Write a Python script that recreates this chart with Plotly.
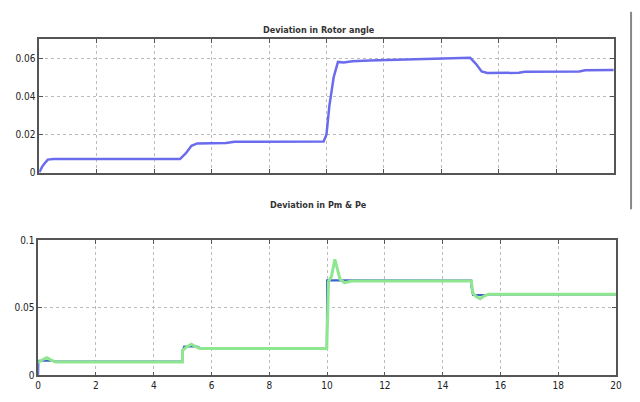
import plotly.graph_objects as go

# Deviation in rotor angle
t_rotor = [0, 0.1, 0.2, 0.3, 0.5, 4.9, 5.1, 5.3, 5.5, 6.5, 6.8, 9.9, 10.0, 10.1, 10.25, 10.4,
           10.6, 10.9, 11.5, 12.5, 13.5, 15.0, 15.2, 15.4, 15.6, 16.7, 16.9, 18.8, 19.0, 20]
rotor = [0, 0.003, 0.005, 0.0068, 0.0071, 0.0071, 0.010, 0.014, 0.0153, 0.0155, 0.0162, 0.0163,
         0.020, 0.035, 0.050, 0.058, 0.0577, 0.0583, 0.0588, 0.0592, 0.0598, 0.0602, 0.057,
         0.053, 0.0522, 0.0523, 0.0528, 0.0530, 0.0536, 0.0538]

# Deviation in Pe (staircase, blue)
t_pe = [0, 0.01, 0.5, 0.6, 4.99, 5.0, 5.05, 5.5, 5.6, 9.99, 10.0, 10.8, 10.9, 14.99, 15.0, 15.05,
        15.5, 15.6, 20]
pe = [0, 0.0108, 0.0108, 0.0102, 0.0102, 0.018, 0.0212, 0.0212, 0.0202, 0.0202, 0.0703, 0.0703,
      0.0702, 0.0702, 0.065, 0.0593, 0.0593, 0.0598, 0.0598]

# Deviation in Pm (green, with overshoot)
t_pm = [0, 0.02, 0.15, 0.3, 0.45, 0.6, 4.99, 5.0, 5.15, 5.3, 5.45, 5.6, 9.99, 10.05, 10.15,
        10.27, 10.45, 10.6, 10.75, 10.85, 14.99, 15.05, 15.15, 15.3, 15.45, 15.6, 20]
pm = [0.01, 0.0098, 0.0115, 0.013, 0.0112, 0.0098, 0.0098, 0.0185, 0.0212, 0.023, 0.0212, 0.0198,
      0.0198, 0.0695, 0.073, 0.0857, 0.071, 0.0685, 0.0692, 0.0698, 0.0698, 0.0605, 0.0585,
      0.0567, 0.0588, 0.06, 0.06]

x_ticks = list(range(0, 21, 2))
top_ticks = [0, 0.02, 0.04, 0.06]
top_labels = ["0", "0.02", "0.04", "0.06"]
bot_ticks = [0, 0.05, 0.1]
bot_labels = ["0", "0.05", "0.1"]

W, H = 640, 402
font_fam = "Liberation Sans Narrow, DejaVu Sans Condensed, Arial Narrow, sans-serif"

fig = go.Figure()
fig.add_trace(go.Scatter(x=t_rotor, y=rotor, mode="lines", line=dict(color="#6B6BEE", width=2.5),
                         xaxis="x", yaxis="y", showlegend=False))
fig.add_trace(go.Scatter(x=t_pe, y=pe, mode="lines", line=dict(color="#3F62D0", width=2),
                         xaxis="x2", yaxis="y2", showlegend=False))
fig.add_trace(go.Scatter(x=t_pm, y=pm, mode="lines", line=dict(color="#8EE68E", width=3),
                         xaxis="x2", yaxis="y2", showlegend=False))

axis_common = dict(showline=True, linecolor="#555555", linewidth=1.5, mirror="ticks",
                   ticks="inside", ticklen=4, tickcolor="#555555", showgrid=True,
                   gridcolor="#BBBBBB", griddash="dot", gridwidth=1, zeroline=False,
                   tickfont=dict(family=font_fam, size=10, color="#222222"))

fig.update_layout(
    width=W, height=H, margin=dict(l=0, r=0, t=0, b=0),
    paper_bgcolor="white", plot_bgcolor="white",
    xaxis=dict(domain=[36.7 / W, 619.5 / W], range=[0, 20], tickvals=x_ticks,
               showticklabels=False, anchor="y", **axis_common),
    yaxis=dict(domain=[1 - 172.3 / H, 1 - 35 / H], range=[0, 0.07], tickvals=top_ticks,
               ticktext=top_labels, anchor="x", **axis_common),
    xaxis2=dict(domain=[35.7 / W, 621.7 / W], range=[0, 20], tickvals=x_ticks,
                ticktext=[str(v) for v in x_ticks], anchor="y2", **axis_common),
    yaxis2=dict(domain=[1 - 380.7 / H, 1 - 241.7 / H], range=[0, 0.1], tickvals=bot_ticks,
                ticktext=bot_labels, anchor="x2", **axis_common),
    annotations=[
        dict(text="<b>Deviation in Rotor angle</b>", x=320 / W, y=1 - 18 / H, xref="paper",
             yref="paper", showarrow=False, font=dict(family=font_fam, size=9, color="#333333")),
        dict(text="<b>Deviation in Pm & Pe</b>", x=320 / W, y=1 - 206 / H, xref="paper",
             yref="paper", showarrow=False, font=dict(family=font_fam, size=9, color="#333333")),
    ],
    shapes=[dict(type="line", xref="paper", yref="paper", x0=637 / W, x1=637 / W,
                 y0=1 - 7 / H, y1=1 - 210 / H, line=dict(color="#888888", width=2))],
)

fig.write_html("out.html")
